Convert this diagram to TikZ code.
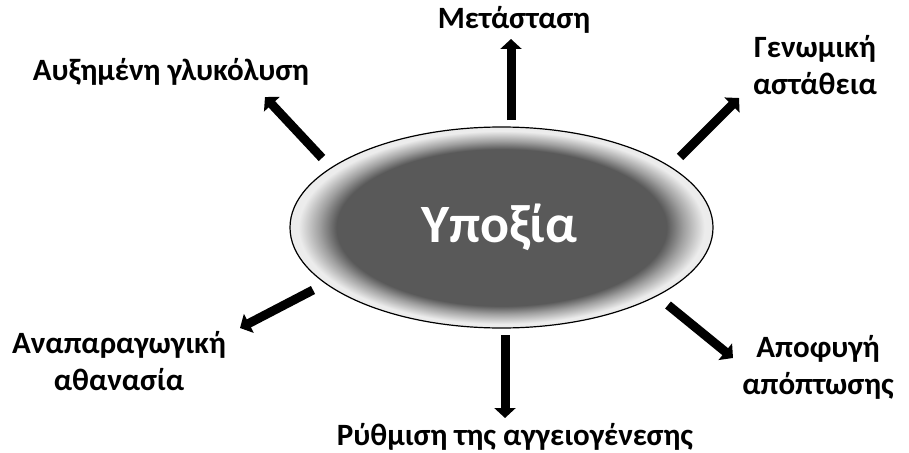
\documentclass[tikz,border=0pt]{standalone}
\usepackage{fontspec}
\setmainfont{Carlito}
\usetikzlibrary{shapes.geometric,arrows.meta}
\definecolor{hypdark}{RGB}{89,89,89}
\definecolor{hypedge}{RGB}{236,236,236}
\pgfdeclareradialshading{hypshade}{\pgfpoint{0bp}{0bp}}{%
  color(0bp)=(hypdark); color(19.5bp)=(hypdark); color(21.5bp)=(gray!75); color(24bp)=(hypedge); color(25bp)=(hypedge); color(50bp)=(hypedge)}
\tikzset{
  lbl/.style={font=\bfseries\fontsize{31}{37}\selectfont, align=center, inner sep=0pt},
  bigarrow/.style={line width=9pt, -{Triangle[width=21pt,length=10pt]}},
}
\begin{document}
\begin{tikzpicture}[x=1pt,y=-1pt]
\useasboundingbox (0,0) rectangle (909,452);
\node[ellipse, draw, line width=1.2pt, shading=hypshade, minimum width=423pt, minimum height=201pt, inner sep=0pt] (hyp) at (501.5,227.5) {};
\node[font=\bfseries\fontsize{54}{60}\selectfont, text=white] (hyptext) at (499,227) {Υποξία};

\node[lbl] (met) at (514,20) {Μετάσταση};
\node[lbl] (glu) at (171,72) {Αυξημένη γλυκόλυση};
\node[lbl] (gen) at (815,65) {Γενωμική\\αστάθεια};
\node[lbl] (ana) at (119,361) {Αναπαραγωγική\\αθανασία};
\node[lbl] (rith) at (515,437) {Ρύθμιση της αγγειογένεσης};
\node[lbl] (apo) at (818,367) {Αποφυγή\\απόπτωσης};

\coordinate (s1) at (322,158); \coordinate (e1) at (265,97);
\coordinate (s2) at (511,120); \coordinate (e2) at (511,39);
\coordinate (s3) at (680,157); \coordinate (e3) at (739,98);
\coordinate (s4) at (313,290); \coordinate (e4) at (240,328);
\coordinate (s5) at (505,335); \coordinate (e5) at (505,418);
\coordinate (s6) at (668,305); \coordinate (e6) at (733,358);

\draw[bigarrow] (s1) -- (e1);
\draw[bigarrow] (s2) -- (e2);
\draw[bigarrow] (s3) -- (e3);
\draw[bigarrow] (s4) -- (e4);
\draw[bigarrow] (s5) -- (e5);
\draw[bigarrow] (s6) -- (e6);
\end{tikzpicture}
\end{document}
